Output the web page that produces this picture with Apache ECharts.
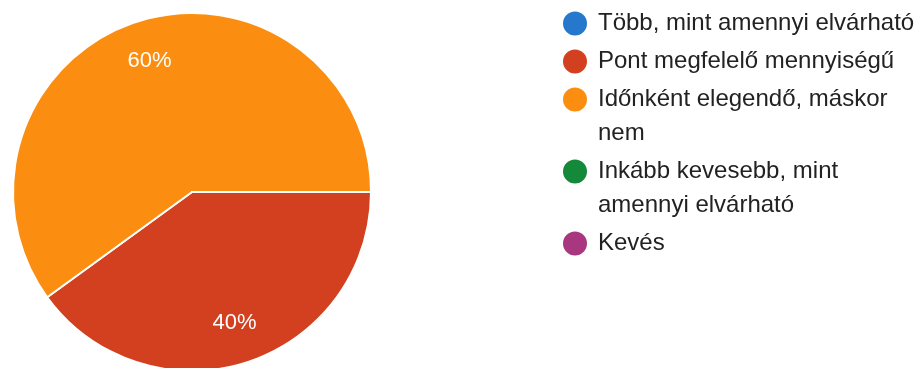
<!DOCTYPE html>
<html>
<head>
<meta charset="utf-8">
<script src="https://cdn.jsdelivr.net/npm/echarts@6/dist/echarts.min.js"></script>
<style>
  html, body { margin: 0; padding: 0; background: #fff; }
  #chart { width: 919px; height: 368px; }
</style>
</head>
<body>
<div id="chart"></div>
<script>
// Answer options (legend text, with manual line breaks) and their shares in percent
const categories = [
  'Több, mint amennyi elvárható',
  'Pont megfelelő mennyiségű',
  'Időnként elegendő, máskor\nnem',
  'Inkább kevesebb, mint\namennyi elvárható',
  'Kevés'
];
const shares = [0, 40, 60, 0, 0];
const colors = ['#2578cc', '#d2401f', '#fb8e10', '#15893a', '#a8377f'];

const pieData = categories.map((name, i) => ({ name, value: shares[i] }));

const FONT = 'Liberation Sans, Arial, sans-serif';
const LINE = 34;      // line height of legend text
const STEP = 38;      // distance between markers of consecutive one-line entries
const FIRST = 23.5;   // centre of the first marker
const ICON = 24;

// One legend block per entry, so each marker can sit beside the first line of its text.
// A multi-line label gets an empty leading line, which keeps its first line centred on the marker.
const legends = [];
let centre = FIRST;
categories.forEach(name => {
  const n = name.split('\n').length;
  const boxLines = n > 1 ? 2 * n - 1 : 1;
  const h = Math.max(ICON, boxLines * LINE);
  legends.push({
    orient: 'vertical',
    left: 563,
    top: centre - h / 2,
    padding: 0,
    icon: 'circle',
    itemWidth: ICON,
    itemHeight: ICON,
    itemStyle: { borderWidth: 0 },
    selectedMode: false,
    formatter: t => (n > 1 ? '\n'.repeat(n - 1) : '') + t,
    textStyle: {
      fontFamily: FONT,
      fontSize: 24,
      lineHeight: LINE,
      color: '#222',
      padding: [0, 0, 0, 6]
    },
    data: [name]
  });
  centre += STEP + (n - 1) * LINE;
});

const chart = echarts.init(document.getElementById('chart'), null, { renderer: 'canvas' });

chart.setOption({
  animation: false,
  color: colors,
  legend: legends,
  series: [
    {
      // the pie itself
      type: 'pie',
      center: [192, 192],
      radius: [0, 179],
      startAngle: 0,
      clockwise: true,
      minAngle: 0,
      label: { show: false },
      labelLine: { show: false },
      itemStyle: { borderColor: '#fff', borderWidth: 2 },
      emphasis: { disabled: true },
      data: pieData
    },
    {
      // percentage labels, placed further out along each slice's mid-angle
      type: 'pie',
      center: [192, 192],
      radius: [90, 179],
      startAngle: 0,
      clockwise: true,
      silent: true,
      itemStyle: { color: 'transparent' },
      label: {
        show: true,
        position: 'inside',
        formatter: p => p.value > 0 ? Math.round(p.percent) + '%' : '',
        color: '#fff',
        fontFamily: FONT,
        fontSize: 22
      },
      labelLine: { show: false },
      emphasis: { disabled: true },
      data: pieData
    }
  ]
});
</script>
</body>
</html>
